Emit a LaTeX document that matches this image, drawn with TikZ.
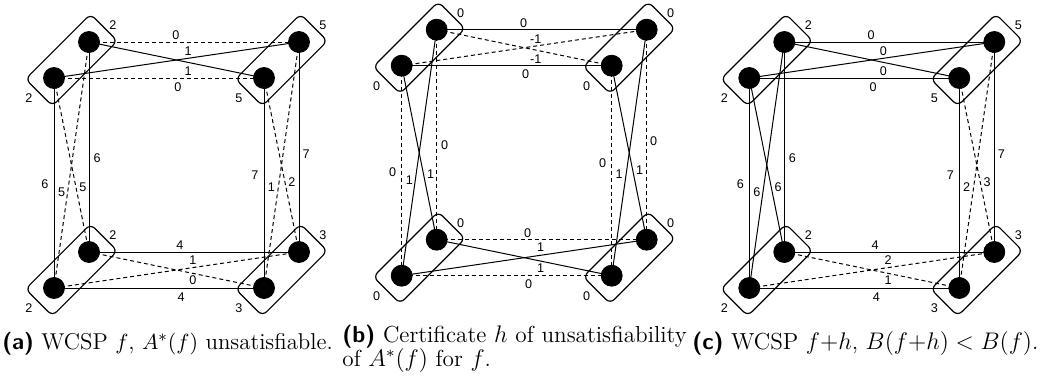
\documentclass[tikz,border=0pt]{standalone}
\usepackage{fontspec}
\newfontfamily\lblfont{Liberation Sans}
\begin{document}
\newcommand\edg[7]{\draw[#4] (#1-#2.center) -- node[lbl,pos=#5,#6]{#7} (#1-#3.center);}
% straight style, label1, label2, cross style, label3, label4
\newcommand\sideTop[7]{%
 \edg{#1}{A1}{B1}{#2}{0.414}{above}{#3}
 \edg{#1}{A2}{B2}{#2}{0.59}{below=1pt}{#4}
 \edg{#1}{A2}{B1}{#5}{0.547}{above}{#6}
 \edg{#1}{A1}{B2}{#5}{0.566}{below=1pt}{#7}}
\newcommand\sideLeft[7]{%
 \edg{#1}{A1}{C1}{#2}{0.552}{right=1pt}{#3}
 \edg{#1}{A2}{C2}{#2}{0.505}{left=1.5pt}{#4}
 \edg{#1}{A1}{C2}{#5}{0.61}{left}{#6}
 \edg{#1}{A2}{C1}{#5}{0.626}{right=0.5pt}{#7}}
\newcommand\sideRight[7]{%
 \edg{#1}{B1}{D1}{#2}{0.533}{right=0.5pt}{#3}
 \edg{#1}{B2}{D2}{#2}{0.462}{left=1.5pt}{#4}
 \edg{#1}{B1}{D2}{#5}{0.589}{left=0.5pt}{#6}
 \edg{#1}{B2}{D1}{#5}{0.598}{right=0.5pt}{#7}}
\newcommand\sideBottom[7]{%
 \edg{#1}{C1}{D1}{#2}{0.433}{above}{#3}
 \edg{#1}{C2}{D2}{#2}{0.605}{below=1pt}{#4}
 \edg{#1}{C2}{D1}{#5}{0.567}{above=0.5pt}{#6}
 \edg{#1}{C1}{D2}{#5}{0.594}{below}{#7}}
% prefix, shift x, shift y, labels of pairs A B C D
\newcommand\skel[7]{%
 \begin{scope}[shift={(#2,#3)}]
  \foreach \n/\x/\y/\l in {A/71.5/60/#4,B/281.5/60/#5,C/71.5/270/#6,D/281.5/270/#7}{
   \node[pairbox] (#1-\n box) at (\x,\y) {};
   \node[dot] (#1-\n1) at (\x+17.5,\y-18) {};
   \node[dot] (#1-\n2) at (\x-17.5,\y+18) {};
   \node[nlbl] (#1-\n1lab) at (\x+41.5,\y-35) {\l};
   \node[nlbl] (#1-\n2lab) at (\x-42.5,\y+38) {\l};
  }
 \end{scope}}
\begin{tikzpicture}[x=0.5pt,y=-0.5pt,
  dot/.style={circle,fill=black,draw=black,minimum size=10.5pt,inner sep=0pt},
  pairbox/.style={draw,rounded corners=3pt,minimum width=46pt,minimum height=19pt,rotate=45,inner sep=0pt,line width=0.6pt},
  sol/.style={line width=0.5pt},
  dsh/.style={line width=0.5pt,dash pattern=on 2pt off 1.5pt},
  lbl/.style={font=\lblfont\fontsize{6.3}{7}\selectfont,inner sep=1pt},
  nlbl/.style={font=\lblfont\fontsize{6.3}{7}\selectfont,inner sep=0pt},
  capt/.style={font=\fontsize{11.6}{12}\selectfont,inner sep=0pt}]
\useasboundingbox (0,0) rectangle (1041,380);
\skel{a}{0}{0}{2}{5}{2}{3}
\skel{b}{347.7}{-12.3}{0}{0}{0}{0}
\skel{c}{695.3}{0}{2}{5}{2}{3}
\sideTop{a}{dsh}{0}{0}{sol}{1}{1}
\sideLeft{a}{sol}{6}{6}{dsh}{5}{5}
\sideRight{a}{sol}{7}{7}{dsh}{1}{2}
\sideBottom{a}{sol}{4}{4}{dsh}{1}{0}
\sideTop{b}{sol}{0}{0}{dsh}{-1}{-1}
\sideLeft{b}{dsh}{0}{0}{sol}{1}{1}
\sideRight{b}{dsh}{0}{0}{sol}{1}{1}
\sideBottom{b}{dsh}{0}{0}{sol}{1}{1}
\sideTop{c}{sol}{0}{0}{sol}{0}{0}
\sideLeft{c}{sol}{6}{6}{sol}{6}{6}
\sideRight{c}{sol}{7}{7}{dsh}{2}{3}
\sideBottom{c}{sol}{4}{4}{dsh}{2}{1}
\node[capt,font=\fontsize{11.45}{12}\selectfont,anchor=base west] (capa) at (2,349) {{\sffamily\bfseries(a)} WCSP $f$, $A^*(f)$ unsatisfiable.};
\node[capt,anchor=base west,text width=176pt,align=left] (capb) at (342,342.5) {{\sffamily\bfseries(b)} Certificate $h$ of unsatisfiability of $A^*(f)$ for $f$.};
\node[capt,anchor=base west] (capc) at (692,349) {{\sffamily\bfseries(c)} WCSP $f{+}h$, $B(f{+}h) < B(f)$.};
\end{tikzpicture}
\end{document}
